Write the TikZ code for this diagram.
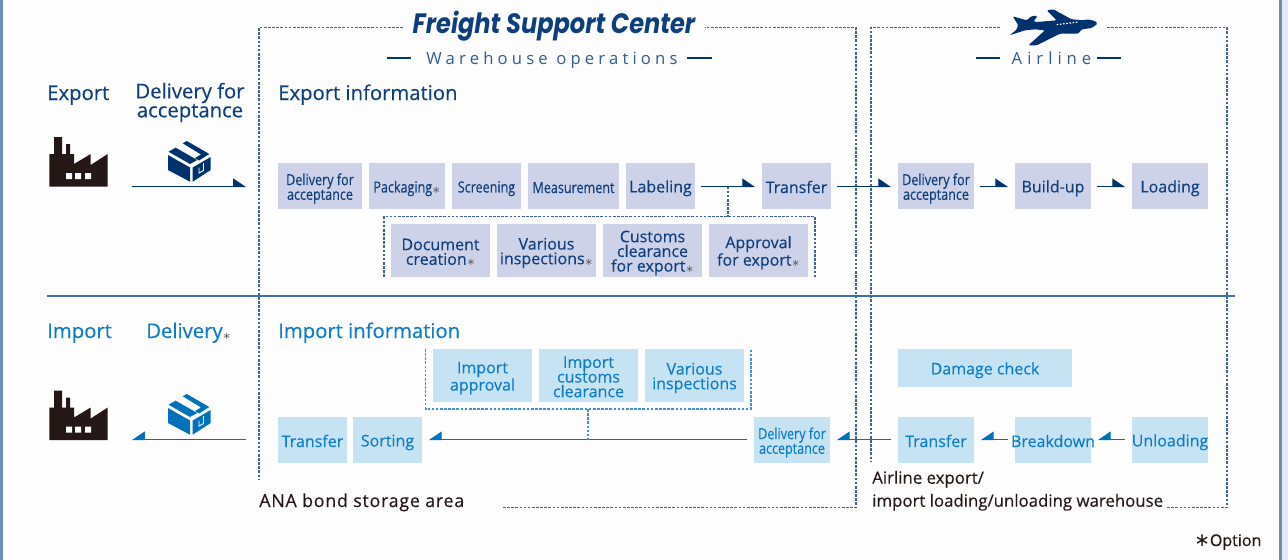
\documentclass[tikz,border=0pt]{standalone}
\usepackage{fontspec}
\usetikzlibrary{arrows.meta}
\setmainfont{Open Sans}[FakeBold=0.3]
\newfontfamily\narrowfont{Open Sans}[FakeStretch=0.82,FakeBold=0.3]
\newfontfamily\titlefont{Poppins}[FakeStretch=0.86]
\newfontfamily\spacedfont{Open Sans}[LetterSpace=30]
\newfontfamily\widefont{Open Sans}[LetterSpace=25]
\newfontfamily\anafont{Open Sans}[LetterSpace=4,FakeBold=0.2]
\newfontfamily\symfont{DejaVu Sans}
\definecolor{navy}{HTML}{0E3F7C}
\definecolor{iconnavy}{HTML}{00326E}
\definecolor{sky}{HTML}{0F7CC6}
\definecolor{iconsky}{HTML}{0072BC}
\definecolor{expfill}{HTML}{CDD2E8}
\definecolor{impfill}{HTML}{C5E3F3}
\definecolor{dashnavy}{HTML}{3F6391}
\definecolor{dashsky}{HTML}{3F90D0}
\definecolor{rulecol}{HTML}{3F72A5}
\definecolor{barcol}{HTML}{6C8DB8}
\definecolor{inkblack}{HTML}{231815}
\newcommand\fs[2]{\fontsize{#1}{#2}\selectfont}
\newcommand\opt{{\symfont\color{black!60}\raisebox{-.1ex}{\fs{7.5}{8}∗}}}
\newcommand\fl{\rule{0pt}{12.5pt}}
\newcommand\lastl{\rule[-2pt]{0pt}{2pt}}
\tikzset{
  strutted/.style={},
  expbox/.style={strutted,fill=expfill,text=navy,font=\fs{12}{11}},
  expnarrow/.style={strutted,fill=expfill,text=navy,font=\narrowfont\fs{11.5}{11}},
  impbox/.style={strutted,fill=impfill,text=sky,font=\fs{12}{11}},
  impnarrow/.style={strutted,fill=impfill,text=sky,font=\narrowfont\fs{11.5}{11}},
  head/.style={inner sep=0pt,font=\fs{15.2}{14.25},align=center},
  exphead/.style={head,text=navy},
  imphead/.style={head,text=sky},
  note/.style={inner sep=0pt,text=inkblack,font=\fs{12.6}{17.25},align=left},
  dashn/.style={draw=dashnavy,line width=.85pt,dash pattern=on 2pt off 1.1pt},
  dashs/.style={draw=dashsky,line width=.85pt,dash pattern=on 2pt off 1.1pt},
  arrn/.style={draw=iconnavy,line width=.8pt,-{Triangle[harpoon,length=9pt,width=12pt]},shorten >=5pt,shorten <=4.5pt},
  arrs/.style={draw=iconsky,line width=.8pt,-{Triangle[harpoon,swap,length=9pt,width=12pt]},shorten >=5pt,shorten <=5pt},
  tick/.style={draw=iconnavy,line width=1.5pt},
}
\newcommand\bx[7]{\node[#1,inner sep=0pt,align=center,minimum width={(#5-#3)*0.75pt},minimum height={(#6-#4)*0.75pt}] (#2) at ({(#3+#5)/2},{(#4+#6)/2}) {\fl #7\lastl};}
\newcommand\factory[1]{\begin{scope}[shift={(0,#1)}]
  \fill[inkblack] (49.3,186.7) -- (49.3,154) -- (54,154) -- (54,137) -- (62,137) -- (62,154) -- (66,154) -- (66,144) -- (70,144) -- (70,154) -- (74,154) -- (74,164) -- (90.7,154) -- (90.7,165) -- (107.7,154) -- (107.7,186.7) -- cycle;
  \fill[white] (66,173) rectangle (72,179) (75,173) rectangle (81,179) (85,173) rectangle (91,179);
\end{scope}}
\newcommand\parcel[2]{\begin{scope}[shift={(0,#1)}]
  \fill[#2] (168,155) -- (190,167.5) -- (190,181.7) -- (168,170) -- cycle;
  \fill[#2] (192.7,167.5) -- (210.7,157) -- (210.7,170) -- (192.7,181.7) -- cycle;
  \fill[#2] (168.5,151.7) -- (175.7,147.7) -- (197.3,160) -- (190,164) -- cycle;
  \fill[#2] (182.7,143.3) -- (186.7,141) -- (209.3,154) -- (199,160.5) -- (195,158) -- (201,154.5) -- cycle;
  \draw[white,line width=.7pt] (203.5,163) -- (203.5,170.5) -- (199,173) -- (199,167.5);
\end{scope}}
\begin{document}
\begin{tikzpicture}[x=0.75pt,y=-0.75pt]
\path[use as bounding box,fill=white!98!black!40!white] (0,0) rectangle (1288,560);
\fill[barcol] (0,0) rectangle (3,560);
\fill[barcol] (1279,0) rectangle (1282,560);
\fill[expfill!50!white] (1282,0) rectangle (1288,560);

% dashed frames
\draw[dashn] (403,27.5) -- (259,27.5) -- (259,480);
\draw[dashn] (503,507.5) -- (856,507.5) -- (856,27.5) -- (705,27.5);
\draw[dashn] (1000,27.5) -- (871,27.5) -- (871,462);
\draw[dashn] (1107,27.5) -- (1227,27.5) -- (1227,507.5) -- (1167,507.5);
\draw[rulecol,line width=.9pt] (47,296) -- (1235,296);

% titles
\node[inner sep=0pt,text=navy,font=\titlefont\bfseries\itshape\fs{21}{24}] (title) at (554,26) {Freight Support Center};
\node[inner sep=0pt,text=navy!85!white,font=\widefont\fs{12.5}{14}] (wh) at (552,60) {Warehouse operations};
\draw[tick] (387,58) -- (411,58) (687,58) -- (712,58);
\node[inner sep=0pt,text=navy!85!white,font=\spacedfont\fs{12.5}{14}] (al) at (1051.5,58.5) {Airline};
\draw[tick] (976,58) -- (1000,58) (1097,58) -- (1121,58);

% plane
\begin{scope}[shift={(1000,2)},x=0.25pt,y=-0.25pt]
\fill[iconnavy,rounded corners=1pt] (293,65) -- (285,57) -- (262,52) -- (250,55) -- (215,52) -- (160,22) -- (140,25) -- (170,55) -- (110,60) -- (100,58) -- (113,42) -- (95,42) -- (80,55) -- (38,43) -- (55,70) -- (48,85) -- (28,100) -- (75,85) -- (105,82) -- (135,85) -- (85,130) -- (110,130) -- (180,95) -- (235,95) -- (245,82) -- (275,78) -- cycle;
\draw[white,line width=.9pt,dash pattern=on 1.2pt off 1.2pt] (170,68) -- (235,60);
\end{scope}

% left headers
\node[exphead,anchor=base west] (export) at (47,100) {Export};
\node[exphead] (dfa) at (190,102.5) {Delivery for\\acceptance};
\node[exphead,anchor=base west] (expinfo) at (278,100) {Export information};
\node[imphead,anchor=base west] (import) at (47,338) {Import};
\node[imphead,anchor=base west] (delivery) at (146,338) {Delivery\opt};
\node[imphead,anchor=base west] (impinfo) at (278,338) {Import information};

% icons
\factory{0}
\factory{253.5}
\parcel{0}{iconnavy}
\parcel{253}{iconsky}

% export row
\bx{expnarrow}{e1}{278}{163}{362}{209}{Delivery for\\acceptance}
\bx{expnarrow}{e2}{369}{163}{445}{209}{Packaging\opt}
\bx{expnarrow}{e3}{452}{163}{521}{209}{Screening}
\bx{expnarrow}{e4}{528}{163}{619}{209}{Measurement}
\bx{expbox}{e5}{626}{163}{695}{209}{Labeling}
\bx{expbox}{e6}{762}{163}{831}{209}{Transfer}
\bx{expnarrow}{a1}{898}{163}{974}{209}{Delivery for\\acceptance}
\bx{expbox}{a2}{1015}{163}{1091}{209}{Build-up}
\bx{expbox}{a3}{1132}{163}{1208}{209}{Loading}
\bx{expbox}{d1}{391}{224}{490}{277}{Document\\creation\opt}
\bx{expbox}{d2}{497}{224}{596}{277}{Various\\inspections\opt}
\bx{expbox}{d3}{603}{224}{702}{277}{Customs\\clearance\\for export\opt}
\bx{expbox}{d4}{709}{224}{808}{277}{Approval\\for export\opt}
\draw[dashn] (384,277) -- (384,216.5) -- (815,216.5) -- (815,277);

% import row
\bx{impbox}{i1}{278}{417}{347}{463}{Transfer}
\bx{impbox}{i2}{353}{417}{422}{463}{Sorting}
\bx{impnarrow}{i3}{754}{417}{830}{463}{Delivery for\\acceptance}
\bx{impbox}{b1}{898}{417}{974}{463}{Transfer}
\bx{impbox}{b2}{1015}{417}{1091}{463}{\makebox[0pt][c]{Breakdown}}
\bx{impbox}{b3}{1132}{417}{1208}{463}{\makebox[0pt][c]{Unloading}}
\bx{impbox}{dc}{898}{349}{1072}{387}{Damage check}
\bx{impbox}{m1}{433}{349}{532}{402}{Import\\approval}
\bx{impbox}{m2}{539}{349}{638}{402}{Import\\customs\\clearance}
\bx{impbox}{m3}{645}{349}{744}{402}{Various\\inspections}
\draw[dashs] (425.5,349) -- (425.5,409) -- (751,409) -- (751,349);

% connectors
\coordinate (s1) at (132,186.5);
\coordinate (s2) at (246,186.5);
\coordinate (s3) at (246,439.5);
\coordinate (s4) at (132,439.5);
\draw[arrn,shorten >=0pt,shorten <=0pt] (s1) -- (s2);
\draw[arrs,shorten >=0pt,shorten <=0pt] (s3) -- (s4);
\draw[arrn] ([yshift=-.375pt]e5.east) -- ([yshift=-.375pt]e6.west);
\draw[arrn] ([yshift=-.375pt]e6.east) -- ([yshift=-.375pt]a1.west);
\draw[arrn] ([yshift=-.375pt]a1.east) -- ([yshift=-.375pt]a2.west);
\draw[arrn] ([yshift=-.375pt]a2.east) -- ([yshift=-.375pt]a3.west);
\draw[arrs] ([yshift=.375pt]i3.west) -- ([yshift=.375pt]i2.east);
\draw[arrs] ([yshift=.375pt]b1.west) -- ([yshift=.375pt]i3.east);
\draw[arrs] ([yshift=.375pt]b2.west) -- ([yshift=.375pt]b1.east);
\draw[arrs] ([yshift=.375pt]b3.west) -- ([yshift=.375pt]b2.east);
\coordinate (t1) at (728,186.5);
\coordinate (t2) at (728,216.5);
\coordinate (t3) at (588,409);
\coordinate (t4) at (588,439.5);
\draw[dashn] (t1) -- (t2);
\draw[dashs] (t3) -- (t4);

% notes
\node[inner sep=0pt,text=inkblack,font=\anafont\fs{13.4}{17},anchor=base west] (ana) at (259,507) {ANA bond storage area};
\node[note,anchor=south west] (wh2) at (872,511) {Airline export/\\import loading/unloading warehouse};
\node[inner sep=0pt,anchor=base west,text=inkblack,font=\fs{12}{14}] (optn) at (1194,546) {{\symfont\fs{14}{14}∗}Option};
\end{tikzpicture}
\end{document}
